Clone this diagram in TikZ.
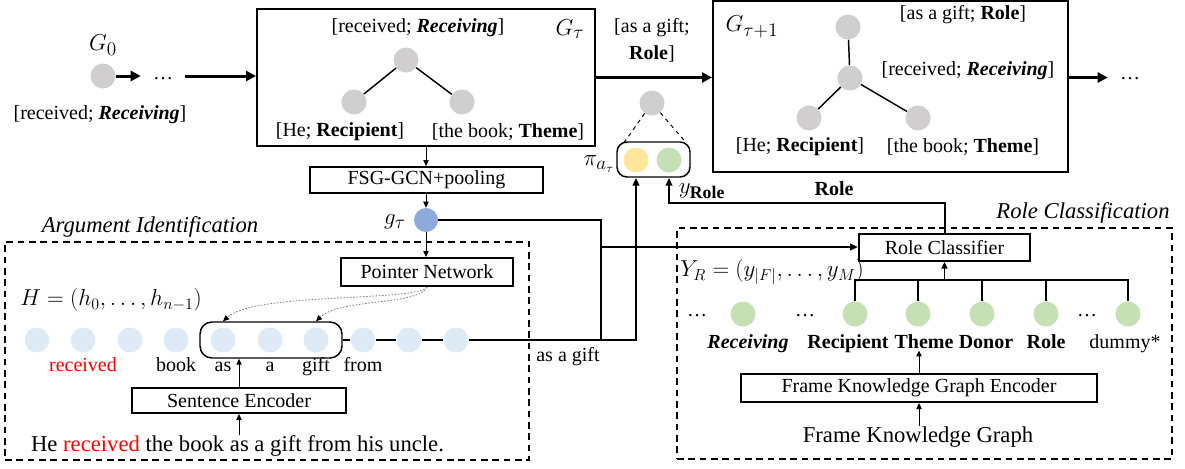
\documentclass[tikz,border=0pt]{standalone}
\usepackage{fontspec}
\setmainfont{Liberation Serif}
\usetikzlibrary{arrows.meta,calc}
\definecolor{ngray}{HTML}{D0CECE}
\definecolor{nblue}{HTML}{DEEBF7}
\definecolor{gblue}{HTML}{8FAADC}
\definecolor{nyel}{HTML}{FFE699}
\definecolor{ngreen}{HTML}{C5E0B4}
\definecolor{dotgray}{HTML}{808080}
\begin{document}
\begin{tikzpicture}[x=0.75pt,y=-0.75pt,
 every node/.style={inner sep=0pt,font=\fontsize{15}{18}\selectfont},
 dotn/.style={circle,minimum size=18.75pt},
 gn/.style={dotn,fill=ngray},
 tk/.style={dotn,fill=nblue},
 rn/.style={dotn,fill=ngreen},
 bx/.style={draw,line width=1.5pt},
 big/.style={font=\fontsize{17}{20}\selectfont},
 mth/.style={font=\fontsize{19}{22}\selectfont},
 ital/.style={font=\fontsize{17}{20}\selectfont\itshape},
 bld/.style={font=\fontsize{15}{18}\selectfont\bfseries},
 heavy/.style={line width=2.25pt,-{Triangle[length=7.5pt,width=7.5pt]}},
 thinarr/.style={line width=0.75pt,-{Triangle[length=4.5pt,width=4pt]}},
 med/.style={line width=1.5pt},
 medarr/.style={med,-{Triangle[length=6pt,width=5pt]}},
 edgeln/.style={line width=1.1pt},
 dbox/.style={draw,line width=1.5pt,dash pattern=on 5pt off 3.5pt},
 ptr/.style={draw=dotgray,line width=0.6pt,dash pattern=on 1.2pt off 1.2pt,-{Triangle[length=4.5pt,width=4pt,black]}},
 ellip/.style={inner xsep=9pt},
]
\useasboundingbox (0,0) rectangle (1185,468);

% ---------- top row ----------
\node[gn] (g0) at (103,76) {};
\node[mth] (lg0) at (103,45) {$G_0$};
\node (lg0b) at (100,115) {[received; \textbf{\textit{Receiving}}]};
\node[ellip] (dotsA) at (163,79) {…};

\node[bx,minimum width=253.5pt,minimum height=102.75pt] (gtau) at (426,77.5) {};
\node[gn] (gtop) at (406,60) {};
\node[gn] (gleft) at (354,102) {};
\node[gn] (gright) at (462,102) {};
\draw[edgeln] (gtop) -- (gleft) (gtop) -- (gright);
\node (lgtop) at (418,28) {[received; \textbf{\textit{Receiving}}]};
\node[mth] (lgtau) at (570,29) {$G_\tau$};
\node (lgl) at (340,132) {[He; \textbf{Recipient}]};
\node (lgr) at (508,132) {[the book; \textbf{Theme}]};

\draw[heavy] (g0) -- (g0 -| dotsA.west);
\draw[heavy] (dotsA.east |- g0) -- (g0 -| gtau.west);

\node[bx,minimum width=266.25pt,minimum height=128.25pt] (gtau1) at (890.5,86.5) {};
\node[gn] (htop) at (848,27) {};
\node[gn] (hmid) at (850,78) {};
\node[gn] (hleft) at (809,118) {};
\node[gn] (hright) at (918,118) {};
\draw[edgeln] (hmid) -- (htop) (hmid) -- (hleft) (hmid) -- (hright);
\node[mth] (lgtau1) at (752,27) {$G_{\tau+1}$};
\node (lh1) at (963,15) {[as a gift; \textbf{Role}]};
\node (lh2) at (968,71) {[received; \textbf{\textit{Receiving}}]};
\node (lh3) at (800,147) {[He; \textbf{Recipient}]};
\node (lh4) at (963,147) {[the book; \textbf{Theme}]};

\draw[heavy] (gtau.east) -- (gtau.east -| gtau1.west);
\node[align=center,font=\fontsize{15}{20}\selectfont] (lasg) at (652,40) {[as a gift;\\\textbf{Role}]};

\node[ellip] (dotsB) at (1130,79) {…};
\draw[heavy] (gtau.east -| gtau1.east) -- (gtau.east -| dotsB.west);

% ---------- middle ----------
\node[bx,minimum width=174.75pt,minimum height=19.5pt] (fsg) at (426.5,180) {FSG-GCN+pooling};
\draw[thinarr] (gtau.south) -- (gtau.south |- fsg.north);
\node[dotn,fill=gblue,minimum size=18pt] (gt) at (426,220) {};
\node[mth] (lgt) at (395,222) {$g_\tau$};
\draw[thinarr] (gt |- fsg.south) -- (gt.north);

\node[draw,line width=1.1pt,rounded corners=7.5pt,minimum width=54.75pt,minimum height=26.25pt] (pibox) at (653.5,159.5) {};
\node[dotn,fill=nyel] (yel) at (636,160) {};
\node[dotn,fill=ngreen] (grn) at (669,160) {};
\node[mth] (lpi) at (599,164) {$\pi_{a_\tau}$};
\node[gn] (pg) at (652,103) {};
\draw[line width=0.75pt,dashed] (pg) -- ($(pibox.north west)+(8,1)$);
\draw[line width=0.75pt,dashed] (pg) -- ($(pibox.north east)+(-5,1)$);

\node[mth] (lyr) at (702,191) {$y_{\mathbf{Role}}$};
\node[bld] (lrole) at (834,189) {Role};

% ---------- argument identification ----------
\node[dbox,minimum width=393pt,minimum height=163.5pt] (aibox) at (267,351) {};
\node[ital] (lai) at (150,227) {Argument Identification};
\node[bx,minimum width=129pt,minimum height=21pt] (pn) at (427,272) {Pointer Network};
\draw[thinarr] (gt.south) -- (gt.south |- pn.north);
\node[font=\fontsize{17}{20}\selectfont] (lh) at (111,300) {$H=(h_0,\ldots,h_{n-1})$};

\node[draw,line width=1.1pt,rounded corners=9pt,minimum width=106.5pt,minimum height=27pt] (tokbox) at (271,340) {};
\foreach \i/\x in {1/37,2/83,3/130,4/176,5/223,6/270,7/316,8/363,9/409,10/456}
  \node[tk] (t\i) at (\x,340) {};
\node[anchor=base,text=red] (w2) at (83,371) {received};
\node[anchor=base] (w4) at (176,371) {book};
\node[anchor=base] (w5) at (223,371) {as};
\node[anchor=base] (w6) at (270,371) {a};
\node[anchor=base] (w7) at (316,371) {gift};
\node[anchor=base] (w8) at (363,371) {from};

\draw[med] (tokbox.east) -- (t8) (t8) -- (t9) (t9) -- (t10);
\draw[ptr] (pn.south) .. controls (415,302) and (255,292) .. (t5 |- tokbox.north);
\draw[ptr] (pn.south) .. controls (418,306) and (340,298) .. (t7 |- tokbox.north);

\node[bx,minimum width=160.5pt,minimum height=18.75pt] (se) at (239,400.5) {Sentence Encoder};
\draw[thinarr] (se.north) -- (se.north |- tokbox.south);
\node[big,anchor=base] (sent) at (237.5,451) {He \textcolor{red}{received} the book as a gift from his uncle.};
\draw[thinarr] (se.south |- sent.north) -- (se.south);

\node[anchor=base] (lasgift) at (568,361) {as a gift};

% ---------- role classification ----------
\node[dbox,minimum width=371.25pt,minimum height=173.25pt] (rcbox) at (924.5,343.5) {};
\node[ital] (lrc) at (1083,213) {Role Classification};
\node[bx,minimum width=128.25pt,minimum height=20.25pt] (rc) at (944.5,247.5) {Role Classifier};
\node[font=\fontsize{17}{20}\selectfont] (lyR) at (772,272) {$Y_R=(y_{|F|},\ldots,y_M)$};

\foreach \i/\x in {1/743,2/855,3/918,4/982,5/1046,6/1128}
  \node[rn] (r\i) at (\x,314) {};
\node (rd1) at (697,316) {…};
\node (rd2) at (805,316) {…};
\node (rd3) at (1087,316) {…};
\node[anchor=base,font=\fontsize{15}{18}\selectfont\bfseries\itshape] (l1) at (748,348) {Receiving};
\node[anchor=base,bld] (l2) at (848,348) {Recipient};
\node[anchor=base,bld] (l3) at (924,348) {Theme};
\node[anchor=base,bld] (l4) at (986,348) {Donor};
\node[anchor=base,bld] (l5) at (1046,348) {Role};
\node[anchor=base] (l6) at (1125,348) {dummy*};

\coordinate (barL) at (855,280);
\draw[edgeln] (r2.north) -- (r2 |- barL) -- (r6 |- barL) -- (r6.north);
\foreach \i in {3,4,5} \draw[edgeln] (r\i.north) -- (r\i |- barL);
\draw[edgeln,-{Triangle[length=5pt,width=4.5pt]}] (rc.south |- barL) -- (rc.south);

\node[bx,minimum width=267pt,minimum height=21pt] (fkg) at (919,388) {Frame Knowledge Graph Encoder};
\node[big,anchor=base] (fkgt) at (918,442) {Frame Knowledge Graph};
\draw[thinarr] (fkg.south |- fkgt.north) -- (fkg.south);
\draw[thinarr] (fkg.north) -- ($(fkg.north |- l3.south)+(0,2)$);

% ---------- connectors across ----------
\coordinate (jA) at (601,247);
\coordinate (jB) at (601,340);
\coordinate (jD) at (669,203);
\draw[med] (gt.east) -| (jB);
\draw[medarr] (t10) -| (yel |- pibox.south);
\draw[medarr] (jA) -- (jA -| rc.west);
\draw[medarr] (rc.north) |- (jD) -- (grn |- pibox.south);
\end{tikzpicture}
\end{document}
